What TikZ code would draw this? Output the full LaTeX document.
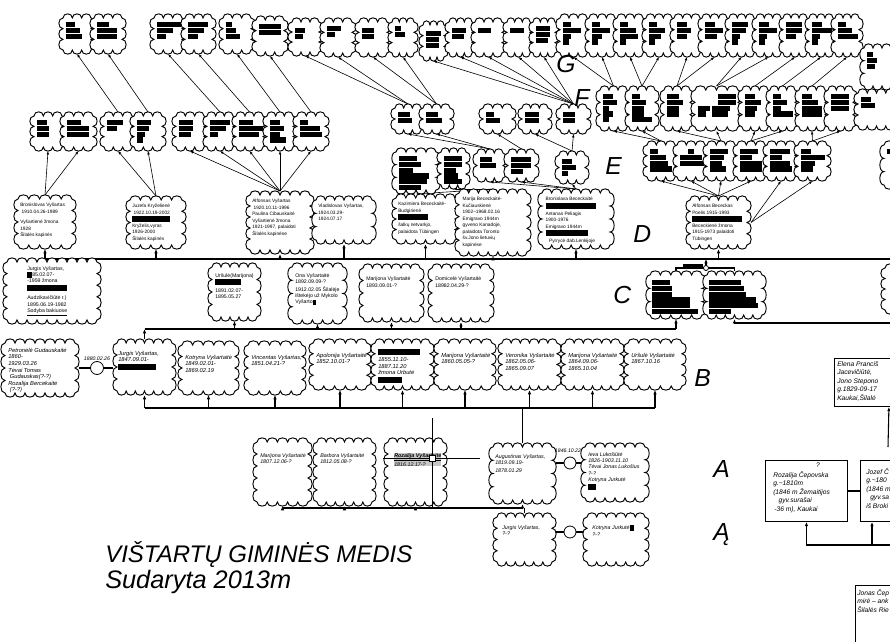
\documentclass[tikz,border=0pt]{standalone}
\usepackage{fontspec}
\setmainfont{Liberation Sans}
\usetikzlibrary{arrows.meta,calc}
\newdimen\pxu \pxu=0.75pt
\newcommand\rbar[1]{\rule[-0.22\baselineskip]{#1\pxu}{0.9\baselineskip}}
\pgfdeclarelayer{bg}\pgfsetlayers{bg,main}
\def\cBh{5.5}
\def\cTx{3}
\def\cTy{4}
\tikzset{
 cloudln/.style={draw=black, fill=white, line width=0.7pt},
 cnode/.style={inner sep=0pt, outer sep=3pt},
 blk/.style={inner sep=0pt, align=left, font=\fontsize{3.5}{4.3}\selectfont},
 ctext/.style={blk},
 tc/.style={line width=0.45pt, -{Latex[length=2.6pt,width=2pt]}},
 mc/.style={line width=0.8pt, -{Latex[length=3.2pt,width=2.6pt]}},
 ml/.style={line width=0.8pt},
 mar/.style={circle, draw, fill=white, line width=0.6pt, inner sep=0pt},
 lbl/.style={inner sep=0pt, font=\fontsize{3.9}{4.5}\selectfont\itshape},
 letter/.style={anchor=base west, inner sep=0pt, font=\fontsize{18.5}{20}\selectfont\itshape},
 rbox/.style={draw, line width=0.7pt, fill=white, inner sep=0pt, anchor=north west},
 rtext/.style={font=\fontsize{5}{6.4}\selectfont\itshape, align=left, inner sep=0pt, anchor=north west},
}
\newcommand\mycloud[6]{%
 \pgfmathsetmacro\cW{#4-#2}%
 \pgfmathsetmacro\cH{#5-#3}%
 \pgfmathtruncatemacro\cNx{max(3,round(\cW/10))}%
 \pgfmathtruncatemacro\cNy{max(2,round(\cH/12))}%
 \pgfmathsetmacro\cDx{\cW/\cNx}%
 \pgfmathsetmacro\cDy{\cH/\cNy}%
 \filldraw[cloudln] (#2,#5)
  \foreach \i in {1,...,\cNy}{ .. controls (#2-\cBh,{#5-(\i-1)*\cDy}) and (#2-\cBh,{#5-\i*\cDy}) .. (#2,{#5-\i*\cDy}) }
  \foreach \i in {1,...,\cNx}{ .. controls ({#2+(\i-1)*\cDx},#3-\cBh) and ({#2+\i*\cDx},#3-\cBh) .. ({#2+\i*\cDx},#3) }
  \foreach \i in {1,...,\cNy}{ .. controls (#4+\cBh,{#3+(\i-1)*\cDy}) and (#4+\cBh,{#3+\i*\cDy}) .. (#4,{#3+\i*\cDy}) }
  \foreach \i in {1,...,\cNx}{ .. controls ({#4-(\i-1)*\cDx},#5+\cBh) and ({#4-\i*\cDx},#5+\cBh) .. ({#4-\i*\cDx},#5) }
  -- cycle;
 \node[cnode, minimum width=\cW*0.75pt, minimum height=\cH*0.75pt] (#1) at ({(#2+#4)/2},{(#3+#5)/2}) {};
 \node[ctext, anchor=north west] at (#2+\cTx,#3+\cTy) {#6};
}
\begin{document}
\begin{tikzpicture}[x=0.75pt, y=-0.75pt]
\useasboundingbox (0,0) rectangle (890,642);
\clip (0,0) rectangle (890,642);

% ---------- G row (left) ----------
\def\cTx{3}\def\cTy{4}
\mycloud{g1}{63}{18}{91}{50}{\rbar{9}\\\rbar{14}\\\rbar{16}}
\mycloud{g2}{94}{18}{122}{50}{\rbar{12}\\\rbar{20}\\\rbar{20}}
\mycloud{g3}{154}{18}{182}{50}{\rbar{24}\\\rbar{16}\\\rbar{9}}
\mycloud{g4}{185}{18}{212}{50}{\rbar{20}\\\rbar{16}\\\rbar{10}}
\mycloud{g5}{223}{18}{251}{50}{\rbar{6}\\\rbar{10}\\\rbar{14}}
\mycloud{g6}{256}{20}{284}{52}{\rbar{22}\\\rbar{22}}
\mycloud{g7}{292}{22}{319}{52}{\mbox{}\\\rbar{10}\\\rbar{8}}
\mycloud{g8}{324}{22}{352}{53}{\rbar{14}\\\rbar{8}}
\mycloud{g9}{359}{22}{387}{53}{\mbox{}\\\rbar{12}\\\rbar{12}}
\mycloud{g10}{392}{22}{414}{53}{\rbar{6}\\\rbar{10}}
\mycloud{g11}{423}{25}{444}{57}{\mbox{}\\\rbar{15}\\\rbar{13}\\\rbar{13}}
\mycloud{g12}{449}{22}{472}{53}{\mbox{}\\\rbar{14}\\\rbar{12}}
\mycloud{g13}{475}{22}{502}{53}{\mbox{}\\\rbar{13}}
\mycloud{g14}{507}{22}{530}{53}{\mbox{}\\\rbar{14}}
\mycloud{g15}{533}{22}{555}{53}{\rbar{14}\\\rbar{14}\\\rbar{12}}
% ---------- G row (right) ----------
\mycloud{gr1}{560}{18}{587}{53}{\rbar{8}\\\rbar{18}\\\rbar{8}\\\rbar{6}}
\mycloud{gr2}{589}{18}{615}{53}{\rbar{8}\\\rbar{18}\\\rbar{10}\\\rbar{6}}
\mycloud{gr3}{617}{18}{643}{53}{\rbar{8}\\\rbar{16}\\\rbar{18}\\\rbar{6}}
\mycloud{gr4}{646}{18}{672}{53}{\rbar{8}\\\rbar{16}\\\rbar{12}\\\rbar{6}}
\mycloud{gr5}{674}{18}{700}{53}{\rbar{10}\\\rbar{14}\\\rbar{10}}
\mycloud{gr6}{702}{18}{727}{53}{\rbar{10}\\\rbar{18}\\\rbar{12}}
\mycloud{gr7}{729}{18}{754}{53}{\rbar{16}\\\rbar{14}\\\rbar{8}\\\rbar{6}}
\mycloud{gr8}{756}{18}{781}{53}{\rbar{10}\\\rbar{18}\\\rbar{8}\\\rbar{6}}
\mycloud{gr9}{783}{18}{807}{53}{\rbar{16}\\\rbar{16}\\\rbar{10}}
\mycloud{gr10}{809}{18}{833}{53}{\rbar{10}\\\rbar{20}\\\rbar{8}\\\rbar{6}}
\mycloud{gr11}{835}{18}{859}{53}{\rbar{8}\\\rbar{14}\\\rbar{20}}
\mycloud{gr12}{864}{48}{900}{86}{\rbar{6}\\\rbar{10}\\\rbar{8}}
% ---------- H row (lower left) ----------
\mycloud{h1}{34}{116}{62}{147}{\rbar{10}\\\rbar{12}\\\rbar{12}}
\mycloud{h2}{64}{116}{93}{147}{\rbar{14}\\\rbar{22}\\\rbar{22}}
\mycloud{h3}{104}{116}{132}{147}{\rbar{16}\\\rbar{10}}
\mycloud{h4}{134}{116}{162}{147}{\rbar{14}\\\rbar{12}\\\rbar{8}\\\rbar{6}}
\mycloud{h5}{176}{116}{204}{147}{\rbar{14}\\\rbar{14}\\\rbar{12}}
\mycloud{h6}{207}{116}{233}{147}{\rbar{20}\\\rbar{16}\\\rbar{8}}
\mycloud{h7}{236}{116}{263}{147}{\rbar{14}\\\rbar{24}\\\rbar{20}}
\mycloud{h8}{267}{116}{293}{147}{\rbar{10}\\\rbar{14}\\\rbar{10}\\\rbar{16}}
\mycloud{h9}{297}{116}{325}{147}{\rbar{8}\\\rbar{20}\\\rbar{22}}
% ---------- F row ----------
\mycloud{f1}{395}{108}{421}{130}{\rbar{12}\\\rbar{14}}
\mycloud{f2}{423}{108}{450}{130}{\rbar{12}\\\rbar{16}}
\mycloud{f3}{483}{108}{512}{130}{\rbar{8}\\\rbar{14}}
\mycloud{f4}{522}{108}{548}{130}{\rbar{14}\\\rbar{14}}
\mycloud{f5}{560}{108}{587}{130}{\rbar{12}\\\rbar{12}}
\mycloud{fr1}{600}{90}{627}{127}{\rbar{10}\\\rbar{14}\\\rbar{6}\\\rbar{10}\\\rbar{6}}
\mycloud{fr2}{629}{90}{655}{127}{\rbar{8}\\\rbar{14}\\\rbar{12}\\\rbar{12}\\\rbar{20}}
\mycloud{fr3}{664}{90}{690}{127}{\rbar{12}\\\rbar{16}\\\rbar{12}\\\rbar{12}}
\mycloud{fr4}{695}{90}{738}{127}{\mbox{}\hspace{20\pxu}\rbar{18}\\\hspace{20\pxu}\rbar{18}\\\rbar{12}\hspace{2\pxu}\rbar{18}\\\rbar{8}\hspace{6\pxu}\rbar{16}}
\mycloud{fr5}{742}{90}{768}{127}{\rbar{10}\\\rbar{16}\\\rbar{12}\\\rbar{10}}
\mycloud{fr6}{770}{90}{795}{127}{\rbar{8}\\\rbar{14}\\\rbar{8}\\\rbar{20}}
\mycloud{fr7}{799}{90}{825}{127}{\rbar{10}\\\rbar{16}\\\rbar{20}\\\rbar{20}}
\mycloud{fr8}{828}{90}{853}{127}{\rbar{18}\\\rbar{18}\\\rbar{18}}
\mycloud{fr9}{858}{93}{895}{126}{\rbar{10}\\\rbar{14}}
% ---------- E row ----------
\mycloud{e1}{396}{152}{436}{190}{\rbar{18}\\\rbar{22}\\\rbar{14}\\\rbar{30}\\\rbar{28}\\\rbar{22}}
\mycloud{e2}{441}{152}{466}{185}{\rbar{18}\\\rbar{18}\\\rbar{12}\\\rbar{14}\\\rbar{18}}
\mycloud{e3}{477}{153}{503}{178}{\rbar{12}\\\rbar{16}}
\mycloud{e4}{508}{153}{535}{178}{\rbar{20}\\\rbar{20}\\\rbar{12}}
\mycloud{e5}{559}{155}{585}{180}{\rbar{10}\\\rbar{14}\\\rbar{6}}
\mycloud{er1}{647}{145}{675}{177}{\rbar{8}\\\rbar{16}\\\rbar{18}\\\rbar{22}}
\mycloud{er2}{677}{145}{705}{177}{\mbox{}\hspace{8\pxu}\rbar{6}\\\rbar{22}\\\rbar{24}}
\mycloud{er3}{707}{145}{735}{177}{\rbar{18}\\\rbar{14}\\\rbar{12}\\\rbar{16}}
\mycloud{er4}{737}{145}{765}{177}{\rbar{18}\\\rbar{12}\\\rbar{22}\\\rbar{22}}
\mycloud{er5}{767}{145}{795}{177}{\rbar{20}\\\rbar{12}\\\rbar{20}\\\rbar{22}}
\mycloud{er6}{798}{145}{827}{177}{\rbar{10}\\\rbar{24}\\\rbar{14}\\\rbar{12}}
\mycloud{er7}{884}{145}{915}{185}{\rbar{6}}

% ---------- D row ----------
\tikzset{ctext/.style={inner sep=0pt, align=left, font=\fontsize{3.6}{4.9}\selectfont}}
\def\cTx{2}\def\cTy{4}
\mycloud{d1}{18}{199}{72}{245}{Bronislovas Vyšartas\\ \ 1910.04.26-1989\\[3pt] Vyšartienė žmona\\ 1928\\ Šilalės kapinės}
\mycloud{d2}{130}{200}{182}{245}{Juzefa Kryželienė\\ \ 1922.10.19-2002\\ \rbar{38}\\ Kryželis,vyras\\ 1926-2000\\ Šilalės kapinės}
\mycloud{d3}{250}{195}{310}{250}{Alfonsas Vyšartas\\ \ 1920.10.11-1996\\ Paulina Cibauskaitė\\ Vyšartienė žmona\\ 1921-1997, palaidoti\\ Šilalės kapinėse}
\mycloud{d4}{316}{200}{372}{240}{Vladislovas Vyšartas,\\ 1924.03.29-\\ 1924.07.17}
\mycloud{d5}{396}{198}{455}{240}{Kazimiera Bececkaitė-\\ Budgirienė\\ \rbar{30}\\[1pt] šalkų netvarkjo,\\ palaidota Tübingen}
\mycloud{d6}{459}{193}{527}{252}{\ Marija Bececkaitė-\\ \ Kučiauskienė\\ \ 1902–1968.02.16\\ \ Emigravo 1944m\\ \ gyveno Kanadoje,\\ \ palaidota Toronto\\ \ šv.Jono lietuvių\\ \ kapinėse}
\mycloud{d7}{542}{193}{610}{245}{\ Bronislava Bececkaitė\\ \ \rbar{50}\\[1pt] \ Antanas Peliagis\\ \ 1900-1976\\ \ Emigravo 1944m\\ \ \rbar{42}\\[1pt] \quad Pyrrycė dab.Lenkijoje}
\mycloud{d8}{690}{200}{747}{245}{Alfonsas Bececkas\\ Poelis 1915-1993\\ \rbar{50}\\ Bececkienė žmona\\ 1915-1973 palaidoti\\ Tübingen}

% ---------- C row ----------
\tikzset{ctext/.style={inner sep=0pt, align=left, font=\fontsize{3.9}{4.8}\selectfont}}
\def\cTx{3}\def\cTy{6}
\mycloud{c1}{7}{262}{97}{320}{}
\node[ctext, anchor=north west] (c1t) at (27,266) {Jurgis Vyšartas,\\ \rbar{5}85.02.07-\\ -1959 žmona\\ \rbar{40}\\[3pt] Audzikavičiūtė r.)\\ 1895.06.19-1982\\ \underline{Sodyba bakiuose}};
\mycloud{c2}{212}{267}{257}{317}{Uršulė(Marijona)\\ \rbar{26}\\[2pt] 1891.02.07-\\ 1895.05.27}
\mycloud{c3}{292}{267}{343}{320}{Ona Vyšartaitė\\ 1892.09.09-?\\[1pt] 1912.02.05 Šilalėje\\ ištekėjo už Mykolo\\ Vyšarto\rbar{3}}
\mycloud{c4}{363}{268}{420}{318}{\mbox{}\\ Marijona Vyšartaitė\\ 1893.09.01-?}
\mycloud{c5}{432}{268}{490}{318}{\mbox{}\\ Domicelė Vyšartaitė\\ 18982.04.29-?}
\tikzset{ctext/.style={blk}}
\def\cTx{2}\def\cTy{5}
\mycloud{c6}{650}{275}{702}{315}{\rbar{18}\\\rbar{20}\\\rbar{20}\\\rbar{38}\\\rbar{38}\\\rbar{46}}
\mycloud{c7}{707}{275}{762}{315}{\rbar{32}\\\rbar{35}\\\rbar{37}\\\rbar{47}\\\rbar{49}\\\rbar{22}}
\mycloud{c8}{885}{268}{915}{310}{}

% ---------- B row ----------
\tikzset{ctext/.style={inner sep=0pt, align=left, font=\fontsize{4.3}{4.9}\selectfont\itshape}}
\def\cTx{3}\def\cTy{5}
\mycloud{b0}{5}{343}{75}{393}{Petronėlė Gudauskaitė\\ 1860-\\ 1929.03.26\\ Tėvai Tomas\\ \ Gudauskas(?-?)\\ Rozalija Bercekaitė\\ \ (?-?)}
\def\cTx{1}\def\cTy{8}
\mycloud{b1}{117}{343}{172}{391}{Jurgis Vyšartas,\\ 1847.09.01-\\ \rbar{38}}
\def\cTx{3}\def\cTy{10}
\mycloud{b2}{182}{345}{235}{391}{Kotryna Vyšartaitė\\ 1849.02.01-\\ 1869.02.19}
\mycloud{b3}{248}{345}{302}{391}{Vincentas Vyšartas,\\ 1851.04.21-?}
\mycloud{b4}{313}{343}{367}{386}{Apolonija Vyšartaitė\\ 1852.10.01-?}
\def\cTy{6}
\mycloud{b5}{375}{343}{430}{386}{\rbar{42}\\[1pt] 1855.11.10-\\ 1887.11.20\\ žmona Urbutė\\ \rbar{24}}
\def\cTy{10}
\mycloud{b6}{438}{343}{492}{386}{Marijona Vyšartaitė\\ 1860.05.05-?}
\mycloud{b7}{502}{343}{557}{386}{Veronika Vyšartaitė\\ 1862.05.06-\\ 1865.09.07}
\mycloud{b8}{565}{343}{620}{386}{Marijona Vyšartaitė\\ 1864.09.06-\\ 1865.10.04}
\mycloud{b9}{628}{343}{682}{386}{Uršulė Vyšartaitė\\ 1867.10.16}

% ---------- A row ----------
\tikzset{ctext/.style={inner sep=0pt, align=left, font=\fontsize{4}{4.8}\selectfont\itshape}}
\def\cTx{3}\def\cTy{11}
\mycloud{a1}{257}{442}{308}{502}{Marijona Vyšartaitė\\ 1807.12.06-?}
\mycloud{a2}{317}{442}{372}{502}{Barbora Vyšartaitė\\ 1812.05.08-?}
\mycloud{a3}{388}{442}{443}{502}{}
\node[ctext, anchor=north west, fill=gray!45] (a3t) at (394,453) {\textbf{\underline{Rozalija Vyšartaitė}}\\ 1816.12.17-?};
\def\cTx{2}\def\cTy{7}
\mycloud{a4}{493}{447}{552}{500}{Augustinas Vyšartas,\\ 1819.09.19-\\[1pt] 1878.01.29}
\def\cTx{3}\def\cTy{5}
\mycloud{a5}{585}{447}{645}{498}{Ieva Lukošiūtė\\ 1826-1903.11.10\\ Tėvai Jonas Lukošius\\ ?-?\\ Kotryna Jurkutė\\ \rbar{8}}
\def\cTx{5}\def\cTy{8}
\mycloud{j1}{497}{517}{552}{562}{Jurgis Vyšartas,\\ ?-?}
\mycloud{j2}{587}{517}{645}{562}{Kotryna Jurkutė\rbar{4}\\ ?-?}

% ---------- marriage marks ----------
\node[mar, minimum size=9.75pt] (m0) at (97,368) {};
\node[lbl] (l0) at (97,359) {1880.02.26};
\node[mar, minimum size=3.8pt] (m1) at (706,268) {};
\node[fill=black, inner sep=0pt, minimum width=15pt, minimum height=3.5pt] (k1) at (693,266) {};
\node[mar, minimum size=9pt] (m2) at (570,463) {};
\node[lbl] (l2) at (568,451) {1846.10.22};
\node[mar, minimum size=9pt] (m3) at (570,532) {};

% ---------- right-hand boxes (cut by the picture edge) ----------
\node[rbox, minimum width=52.5pt, minimum height=36pt] (r1) at (834,358) {};
\node[rtext] (r1t) at (837,361) {Elena Pranciš\\ Jacevičiūtė,\\ Jono Stepono\\ g.1829-09-17\\ Kaukai,Šilalė};
\node[rbox, minimum width=61.5pt, minimum height=45.75pt] (r2) at (765,460) {};
\node[rtext, anchor=north] (r2q) at (818,463) {?};
\node[rtext] (r2t) at (773,471) {Rozalija Čepovska\\ g.\textasciitilde1810m\\ (1846 m Žemaitijos\\ \hspace*{4pt}gyv.surašai\\ \,-36 m), Kaukai};
\node[rbox, minimum width=45pt, minimum height=45.75pt] (r3) at (860,460) {};
\node[rtext] (r3t) at (866,468) {Jozef Č\\ g.\textasciitilde180\\ (1846 m\\ \hspace*{3pt}gyv.sa\\ iš Broki};
\node[rbox, minimum width=45pt, minimum height=60pt] (r4) at (855,585) {};
\node[rtext] (r4t) at (857,589) {Jonas Čep\\ mirė – ank\\ Šilalės Rie};

% ---------- letters and title ----------
\node[letter] (LG) at (556,73) {G};
\node[letter] (LF) at (574,107) {F};
\node[letter] (LE) at (605,175) {E};
\node[letter] (LD) at (633,242) {D};
\node[letter] (LC) at (613,303) {C};
\node[letter] (LB) at (694,386) {B};
\node[letter] (LA) at (713,477) {A};
\node[letter] (LAo) at (713,540) {Ą};
\node[anchor=base west, inner sep=0pt, font=\fontsize{18}{20}\selectfont\itshape] (T1) at (105,562) {VIŠTARTŲ GIMINĖS MEDIS};
\node[anchor=base west, inner sep=0pt, font=\fontsize{19}{20}\selectfont\itshape] (T2) at (105,588) {Sudaryta 2013m};

% ---------- cursor ----------
\draw[line width=0.6pt] (383,458) -- (480,458);
\draw[line width=0.6pt] (432,418) -- (432,507);
\node[draw, fill=white, line width=0.6pt, minimum size=4.5pt, inner sep=0pt] (cur) at (432,458) {};

% ---------- connectors ----------
\begin{pgfonlayer}{bg}
\foreach \t in {h1,h2} \draw[tc] (d1.north) -- (\t.south);
\foreach \t in {h3,h4} \draw[tc] (d2.north) -- (\t.south);
\foreach \t in {h5,h6,h7,h8,h9} \draw[tc] (d3.north) -- (\t.south);
\draw[tc] (h3.north) -- (g1.south);
\draw[tc] (h4.north) -- (g2.south);
\draw[tc] (h6.north) -- (g3.south);
\draw[tc] (h7.north) -- (g4.south);
\draw[tc] (h8.north) -- (g5.south);
\draw[tc] (h9.north) -- (g6.south);
\foreach \t in {g7,g8} \draw[tc] (f1.north) -- (\t.south);
\foreach \t in {g9,g10} \draw[tc] (f2.north) -- (\t.south);
\foreach \t in {g11,g12,g13,g14,g15} \draw[tc] (f5.north) -- (\t.south);
\foreach \t in {f1,f2} \draw[tc] (e3.north) -- (\t.south);
\draw[tc] (e4.north) -- (f3.south);
\foreach \t in {f4,f5} \draw[tc] (e5.north) -- (\t.south);
\foreach \t in {e1,e2} \draw[tc] (d6.north) -- (\t.south);
\foreach \t in {e3,e4,e5} \draw[tc] (d7.north) -- (\t.south);
\foreach \t in {er1,er2,er3,er4} \draw[tc] (d8.north) -- (\t.south);
\foreach \t in {er5,er6} \draw[tc] (d8.east) -- (\t.south);
\foreach \t in {fr1,fr2} \draw[tc] (er1.north) -- (\t.south);
\foreach \t in {fr3,fr4} \draw[tc] (er3.north) -- (\t.south);
\foreach \t in {fr5,fr6} \draw[tc] (er4.north) -- (\t.south);
\foreach \t in {fr7,fr8} \draw[tc] (er6.north) -- (\t.south);
\foreach \t in {gr1,gr2} \draw[tc] (fr1.north) -- (\t.south);
\foreach \t in {gr3,gr4} \draw[tc] (fr2.north) -- (\t.south);
\foreach \t in {gr5,gr6} \draw[tc] (fr3.north) -- (\t.south);
\foreach \t in {gr7,gr8} \draw[tc] (fr4.north) -- (\t.south);
\draw[tc] (fr5.north) -- (gr9.south);
\draw[tc] (fr6.north) -- (gr10.south);
\draw[tc] (fr7.north) -- (gr11.south);
% D line
\coordinate (dL) at (0,259);
\coordinate (dR) at (895,259);
\draw[ml] (d1.south |- dL) -- (dR);
\foreach \t in {d1,d2,d3,d4,d5,d6,d7,d8} \draw[mc] (\t.south |- dL) -- (\t.south);
\draw[ml] (c1.north) -- (c1.north |- dL);
\draw[ml] (c6.north) -- (c6.north |- m1) -- (c7.north |- m1) -- (c7.north);
\draw[mc] (m1.north) -- (m1.north |- dL);
% C line
\coordinate (cL) at (0,329);
\coordinate (cR) at (895,323);
\draw[ml] (b1.north |- cL) -- (c6.south |- cL);
\draw[mc] (b1.north) -- (b1.north |- cL);
\foreach \t in {c2,c3,c4,c5,c6} \draw[mc] (\t.south |- cL) -- (\t.south);
\draw[mc] (cR) -- (c7.south |- cR) -- (c7.south);
% B line
\coordinate (bL) at (0,408);
\draw[ml] (b1.south |- bL) -- (b9.south |- bL);
\foreach \t in {b1,b2,b3,b4,b5,b6,b7,b8,b9} \draw[mc] (\t.south |- bL) -- (\t.south);
\draw[ml] (a4.north) -- (a4.north |- bL);
\draw[ml] (b0.east |- m0) -- (b1.west |- m0);
% A line
\coordinate (aL) at (0,508);
\draw[ml] (a1.south |- aL) -- (a4.south |- aL);
\foreach \t in {a1,a2,a3,a4} \draw[mc] (\t.south |- aL) -- (\t.south);
\draw[ml] (j1.north) -- (j1.north |- aL);
\draw[ml] (a4.east |- m2) -- (a5.west |- m2);
\draw[ml] (j1.east |- m3) -- (j2.west |- m3);
% right boxes
\draw[ml] (r2.east) -- (r3.west);
\coordinate (rL) at (0,545);
\coordinate (rR) at (895,545);
\draw[ml] (r2.south |- rL) -- (rR);
\draw[mc] (r2.south |- rL) -- (r2.south);
\coordinate (r3a) at ($(r3.south west)+(12,0)$);
\draw[mc] (r3a |- rL) -- (r3a);
\coordinate (r1a) at ($(r1.south east)+(-16,0)$);
\coordinate (r1d) at (888,447);
\draw[mc] (r1d) -- (r1a);
\end{pgfonlayer}
\end{tikzpicture}
\end{document}
